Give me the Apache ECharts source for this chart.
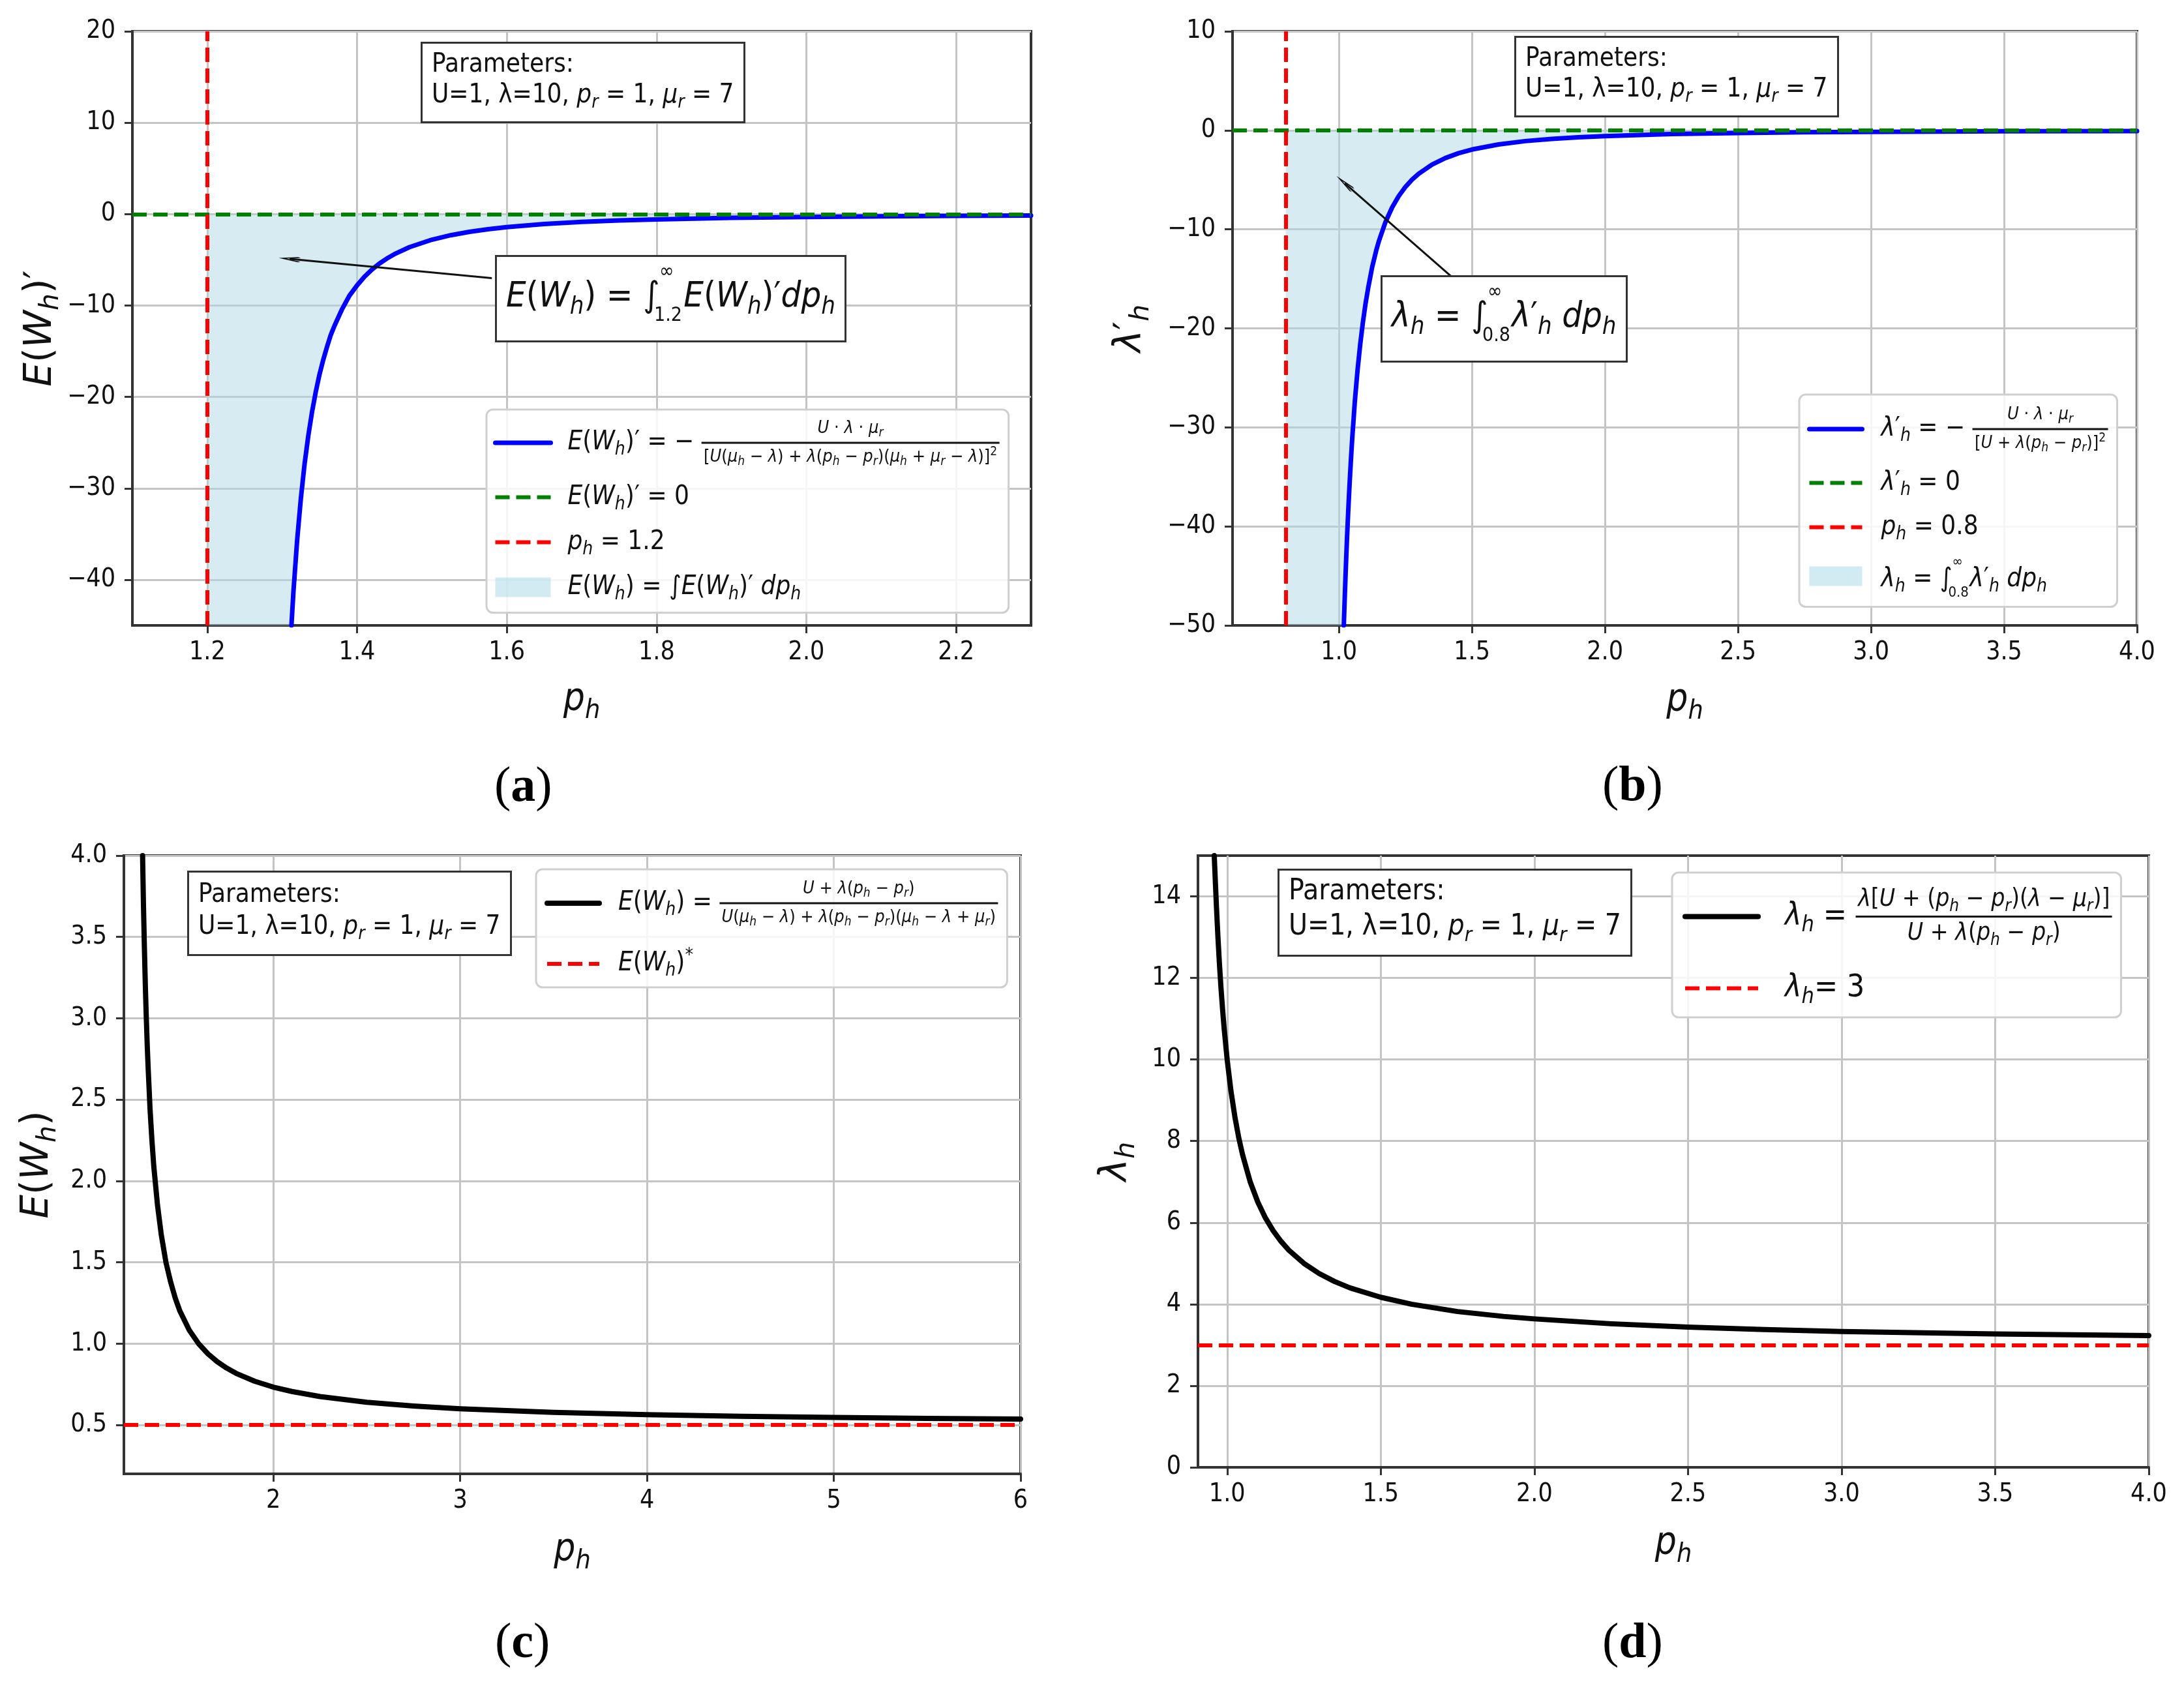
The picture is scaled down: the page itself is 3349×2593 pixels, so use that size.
<!DOCTYPE html>
<html>
<head>
<meta charset="utf-8">
<script src="https://cdn.jsdelivr.net/npm/echarts@6.0.0/dist/echarts.min.js"></script>
<style>
html, body { margin:0; padding:0; background:#ffffff; }
#chart { width:3349px; height:2593px; }
</style>
</head>
<body>
<div id="chart"></div>
<script>
// ================= DATA =================
// (a) E(W_h)' curve
const xA = [1.3124, 1.315, 1.32, 1.325, 1.33, 1.335, 1.34, 1.345, 1.35, 1.355, 1.36, 1.365, 1.37, 1.38, 1.39, 1.40, 1.41, 1.42, 1.43, 1.44, 1.45, 1.47, 1.5, 1.525, 1.55, 1.575, 1.6, 1.65, 1.7, 1.75, 1.8, 1.85, 1.9, 2.0, 2.1, 2.2, 2.3];
const yA = [-45, -41.4, -35.7, -31.1, -27.3, -24.2, -21.6, -19.4, -17.5, -15.9, -14.5, -13.2, -12.2, -10.4, -8.9, -7.8, -6.84, -6.06, -5.40, -4.85, -4.38, -3.62, -2.8, -2.31, -1.94, -1.66, -1.43, -1.09, -0.86, -0.7, -0.58, -0.49, -0.41, -0.31, -0.24, -0.19, -0.16];
// (b) lambda_h' curve
const xB = [1.0183, 1.02, 1.025, 1.03, 1.035, 1.04, 1.045, 1.05, 1.06, 1.07, 1.08, 1.09, 1.1, 1.11, 1.125, 1.14, 1.15, 1.175, 1.2, 1.225, 1.25, 1.275, 1.3, 1.35, 1.4, 1.45, 1.5, 1.6, 1.7, 1.8, 1.9, 2.0, 2.25, 2.5, 2.75, 3.0, 3.5, 4.0];
const yB = [-50, -48.6, -44.8, -41.4, -38.4, -35.7, -33.3, -31.1, -27.3, -24.2, -21.6, -19.4, -17.5, -15.9, -13.8, -12.15, -11.2, -9.26, -7.78, -6.63, -5.71, -4.98, -4.38, -3.46, -2.8, -2.31, -1.94, -1.43, -1.09, -0.86, -0.70, -0.58, -0.38, -0.27, -0.2, -0.16, -0.1, -0.07];
// (c) E(W_h) curve
const xC = [1.3, 1.305, 1.31, 1.315, 1.32, 1.325, 1.33, 1.34, 1.35, 1.36, 1.38, 1.4, 1.425, 1.45, 1.475, 1.5, 1.55, 1.6, 1.65, 1.7, 1.75, 1.8, 1.9, 2.0, 2.1, 2.25, 2.5, 2.75, 3.0, 3.5, 4.0, 4.5, 5.0, 5.5, 6.0];
const yC = [4.0, 3.68, 3.42, 3.19, 3.0, 2.83, 2.69, 2.44, 2.25, 2.09, 1.85, 1.67, 1.5, 1.38, 1.28, 1.2, 1.083, 1.0, 0.9375, 0.889, 0.85, 0.818, 0.769, 0.733, 0.706, 0.675, 0.64, 0.617, 0.6, 0.578, 0.564, 0.554, 0.547, 0.541, 0.537];
// (d) lambda_h curve
const xD = [0.958, 0.962, 0.965, 0.97, 0.975, 0.98, 0.985, 0.99, 1.0, 1.0125, 1.025, 1.0375, 1.05, 1.075, 1.1, 1.125, 1.15, 1.175, 1.2, 1.25, 1.3, 1.35, 1.4, 1.5, 1.6, 1.75, 1.9, 2.0, 2.25, 2.5, 2.75, 3.0, 3.5, 4.0];
const yD = [15, 14.29, 13.77, 13.0, 12.33, 11.75, 11.24, 10.78, 10.0, 9.22, 8.6, 8.09, 7.67, 7.0, 6.5, 6.11, 5.8, 5.545, 5.33, 5.0, 4.75, 4.556, 4.4, 4.17, 4.0, 3.82, 3.7, 3.64, 3.52, 3.44, 3.38, 3.33, 3.27, 3.23];

// reference lines
const vLineA = 1.2, hLineA = 0;
const vLineB = 0.8, hLineB = 0;
const hLineC = 0.5;
const hLineD = 3;

// axis ranges
const xRangeA = [1.1, 2.3],  yRangeA = [-45, 20];
const xRangeB = [0.6, 4.0],  yRangeB = [-50, 10];
const xRangeC = [1.2, 6.0],  yRangeC = [0.2, 4.0];
const xRangeD = [0.905, 4.0], yRangeD = [0, 15];

// tick labels
const xTicksA = [1.2, 1.4, 1.6, 1.8, 2.0, 2.2];
const yTicksA = [-40, -30, -20, -10, 0, 10, 20];
const xTicksB = [1.0, 1.5, 2.0, 2.5, 3.0, 3.5, 4.0];
const yTicksB = [-50, -40, -30, -20, -10, 0, 10];
const xTicksC = [2, 3, 4, 5, 6];
const yTicksC = [0.5, 1.0, 1.5, 2.0, 2.5, 3.0, 3.5, 4.0];
const xTicksD = [1.0, 1.5, 2.0, 2.5, 3.0, 3.5, 4.0];
const yTicksD = [0, 2, 4, 6, 8, 10, 12, 14];

// annotation arrows [from, to] in data coordinates
const arrowA = [[1.58, -7.0], [1.31, -4.9]];
const arrowB = [[1.42, -14.7], [1.022, -5.35]];

// ================= STYLE =================
const F  = "'DejaVu Sans Condensed', 'DejaVu Sans', sans-serif";
const FY = "'DejaVu Sans', sans-serif";
const FS = "'Liberation Serif', 'DejaVu Serif', serif";
const TXT = '#111111';
const AX = '#333333';
const GRID = '#c4c4c4';
const BLUE = '#0000ff', GREEN = '#008000', RED = '#ff0000', BLACK = '#000000';
const FILL = '#add8e6';
const DASH = [22, 10];
const DASHW = 6;

const cv = document.createElement('canvas').getContext('2d');

function st(p, size, lh, opts) {
  opts = opts || {};
  const b = { fontFamily: opts.family || F, color: TXT, fontWeight: 'normal' };
  if (opts.align) b.align = opts.align;
  const ss = Math.round(size * 0.7);
  const r = {};
  r[p + 'I'] = Object.assign({}, b, { fontSize: size, fontStyle: 'italic', lineHeight: lh });
  r[p + 'R'] = Object.assign({}, b, { fontSize: size, lineHeight: lh });
  r[p + 'S'] = Object.assign({}, b, { fontSize: ss, fontStyle: 'italic', lineHeight: lh, padding: [Math.round(size * 0.56), 0, 0, 0] });
  r[p + 'P'] = Object.assign({}, b, { fontSize: ss, lineHeight: lh, padding: [0, 0, Math.round(size * 0.6), 0] });
  return r;
}

function tex(s, p) {
  let out = '', i = 0;
  const isL = c => /[A-Za-zλμ]/.test(c);
  while (i < s.length) {
    const c = s[i];
    if (c === '_' || c === '^') {
      const k = c === '_' ? 'S' : 'P';
      i++;
      let t;
      if (s[i] === '{') { const j = s.indexOf('}', i); t = s.slice(i + 1, j); i = j + 1; }
      else { t = s[i]; i++; }
      out += '{' + p + k + '|' + t + '}';
      continue;
    }
    const L = isL(c);
    let j = i;
    while (j < s.length && s[j] !== '_' && s[j] !== '^' && isL(s[j]) === L) j++;
    out += '{' + p + (L ? 'I' : 'R') + '|' + s.slice(i, j) + '}';
    i = j;
  }
  return out;
}

function measure(str, rich) {
  let w = 0;
  str.replace(/\{(\w+)\|([^}]*)\}/g, (m, k, t) => {
    const s = rich[k] || {};
    if (s.width != null) { w += s.width; return m; }
    cv.font = (s.fontStyle || 'normal') + ' ' + (s.fontWeight || 'normal') + ' ' + (s.fontSize || 12) + 'px ' + (s.fontFamily || F);
    w += cv.measureText(t).width;
    if (s.padding) w += (s.padding[1] || 0) + (s.padding[3] || 0);
    return m;
  });
  return w;
}

function fracText(lhs, num, den, rich, pC, pN, id) {
  const L = tex(lhs, pC), N = tex(num, pN), D = tex(den, pN);
  const wl = measure(L, rich), wn = measure(N, rich), wd = measure(D, rich);
  const wb = Math.ceil(Math.max(wn, wd) + 6);
  rich['sp' + id] = { width: Math.round(wl), fontSize: 4, lineHeight: 4 };
  rich['br' + id] = { width: wb, height: 3, lineHeight: 3, fontSize: 2, backgroundColor: TXT };
  return '{sp' + id + '| }' + N + '\n' + L + '{br' + id + '| }\n{sp' + id + '| }' + D;
}

function intText(pre, post, up, lo, rich, pM, kU, kL, id, loShift) {
  const P = tex(pre, pM), Q = tex(post, pM);
  const wp = measure(P, rich);
  const U = '{' + kU + '|' + up + '}', Lo = '{' + kL + '|' + lo + '}';
  const wlim = Math.max(measure(U, rich), measure(Lo, rich));
  rich['sp' + id] = { width: Math.round(wp), fontSize: 4, lineHeight: 4 };
  rich['sq' + id] = { width: Math.round(wp - loShift), fontSize: 4, lineHeight: 4 };
  rich['gp' + id] = { width: Math.round(wlim - loShift + 2), fontSize: 4, lineHeight: 4 };
  return '{sp' + id + '| }' + U + '\n' + P + '{gp' + id + '| }' + Q + '\n{sq' + id + '| }' + Lo;
}

const pts = (xs, ys) => xs.map((x, i) => [x, ys[i]]);
const fmtMinus = v => (v < 0 ? '\u2212' + Math.abs(v) : String(v));
const fmt1 = v => Number(v).toFixed(1);
const fmt0 = v => String(Math.round(v));

// ================= AXES =================
const richX = st('X', 58, 60);
const richY = st('Y', 58, 60, { family: FY });

function xAxis(gi, range, ticks, fmt, gap) {
  return {
    type: 'value', gridIndex: gi, min: range[0], max: range[1], position: 'bottom',
    axisLine: { show: true, onZero: false, lineStyle: { color: AX, width: 4 } },
    axisTick: { show: true, inside: false, length: 12, customValues: ticks, lineStyle: { color: AX, width: 3 } },
    axisLabel: { show: true, customValues: ticks, formatter: fmt, margin: 22, color: TXT, fontSize: 39, fontFamily: F },
    splitLine: { show: true, lineStyle: { color: GRID, width: 3 } },
    name: tex('p_h', 'X'), nameLocation: 'middle', nameGap: gap,
    nameTextStyle: { fontFamily: F, fontSize: 58, color: TXT, rich: richX }
  };
}
function yAxis(gi, range, ticks, fmt, nm, gap) {
  return {
    type: 'value', gridIndex: gi, min: range[0], max: range[1], position: 'left',
    axisLine: { show: true, onZero: false, lineStyle: { color: AX, width: 4 } },
    axisTick: { show: true, inside: false, length: 12, customValues: ticks, lineStyle: { color: AX, width: 3 } },
    axisLabel: { show: true, customValues: ticks, formatter: fmt, margin: 26, color: TXT, fontSize: 39, fontFamily: F },
    splitLine: { show: true, lineStyle: { color: GRID, width: 3 } },
    name: tex(nm, 'Y'), nameLocation: 'middle', nameGap: gap, nameRotate: 90,
    nameTextStyle: { fontFamily: FY, fontSize: 58, color: TXT, rich: richY }
  };
}

function grid(left, top, width, height) {
  return { left, top, width, height, show: true, borderColor: AX, borderWidth: 4,
           backgroundColor: 'rgba(0,0,0,0)', containLabel: false, outerBoundsMode: 'none' };
}

// ================= TITLES (parameter boxes, annotations, captions) =================
function paramsTitle(left, top, size, lh, pad) {
  const p = 'A';
  const rich = st(p, size, lh);
  const text = '{AR|Parameters:}\n{AR|U=1, λ=10, }' + tex('p_r', p) + '{AR| = 1, }' + tex('μ_r', p) + '{AR| = 7}';
  return { text, left, top, padding: pad, borderColor: '#333333', borderWidth: 3, backgroundColor: '#ffffff',
           textStyle: { fontFamily: F, fontSize: size, fontWeight: 'normal', color: TXT, lineHeight: lh, rich } };
}

function annTitle(left, top, pre, post, lo, id) {
  const rich = Object.assign({}, st('M', 54, 50), {
    Mu: { fontFamily: F, fontSize: 30, fontWeight: 'normal', color: TXT, lineHeight: 28 },
    Ml: { fontFamily: F, fontSize: 30, fontWeight: 'normal', color: TXT, lineHeight: 6 }
  });
  const text = intText(pre, post, '∞', lo, rich, 'M', 'Mu', 'Ml', id, 8);
  return { text, left, top, padding: [10, 16, 25, 16], borderColor: '#333333', borderWidth: 3, backgroundColor: '#ffffff',
           textStyle: { fontFamily: F, fontSize: 54, fontWeight: 'normal', color: TXT, rich } };
}

function caption(cx, cy, letter) {
  const rich = {
    cb: { fontFamily: FS, fontSize: 76, fontWeight: 'bold', color: '#000', lineHeight: 84 },
    cn: { fontFamily: FS, fontSize: 76, fontWeight: 'normal', color: '#000', lineHeight: 84 }
  };
  const text = '{cn|(}{cb|' + letter + '}{cn|)}';
  const w = measure(text, rich);
  return { text, left: Math.round(cx - w / 2), top: Math.round(cy - 42), padding: 0,
           textStyle: { fontFamily: FS, fontSize: 76, fontWeight: 'normal', rich } };
}

// ================= LEGENDS =================
function legend(cfg) {
  return {
    orient: 'vertical', left: cfg.left, top: cfg.top, padding: cfg.padding, itemGap: cfg.gap,
    itemWidth: cfg.iw, itemHeight: 30, selectedMode: false,
    backgroundColor: 'rgba(255,255,255,0.85)', borderColor: '#cfcfcf', borderWidth: 3, borderRadius: 10,
    itemStyle: { opacity: 0 },
    textStyle: { fontFamily: F, fontSize: cfg.lf, fontWeight: 'normal', color: TXT, padding: [0, 0, 0, cfg.tg], rich: cfg.rich },
    formatter: n => cfg.labels[n],
    data: cfg.data
  };
}

const richLA = Object.assign({}, st('L', 40, 46), st('C', 40, 16), st('N', 27, 28, { align: 'center' }));
const labA = {
  aCurve: fracText('E(W_h)′ = − ', 'U · λ · μ_r', '[U(μ_h − λ) + λ(p_h − p_r)(μ_h + μ_r − λ)]^2', richLA, 'C', 'N', 'a1'),
  aZero: tex('E(W_h)′ = 0', 'L'),
  aV: tex('p_h = 1.2', 'L'),
  aFill: tex('E(W_h) = ∫E(W_h)′ dp_h', 'L')
};
const richLB = Object.assign({}, st('L', 40, 46), st('C', 40, 16), st('N', 27, 28, { align: 'center' }), st('K', 40, 36), {
  Lu: { fontFamily: F, fontSize: 22, fontWeight: 'normal', color: TXT, lineHeight: 16 },
  Ll: { fontFamily: F, fontSize: 22, fontWeight: 'normal', color: TXT, lineHeight: 6 }
});
const labB = {
  bCurve: fracText('λ′_h = − ', 'U · λ · μ_r', '[U + λ(p_h − p_r)]^2', richLB, 'C', 'N', 'b1'),
  bZero: tex('λ′_h = 0', 'L'),
  bV: tex('p_h = 0.8', 'L'),
  bFill: intText('λ_h = ∫', 'λ′_h dp_h', '∞', '0.8', richLB, 'K', 'Lu', 'Ll', 'b4', 6)
};
const richLC = Object.assign({}, st('L', 40, 46), st('C', 40, 16), st('N', 27, 28, { align: 'center' }));
const labC = {
  cCurve: fracText('E(W_h) = ', 'U + λ(p_h − p_r)', 'U(μ_h − λ) + λ(p_h − p_r)(μ_h − λ + μ_r)', richLC, 'C', 'N', 'c1'),
  cRef: tex('E(W_h)^*', 'L')
};
const richLD = Object.assign({}, st('L', 48, 52), st('C', 48, 16), st('N', 37, 36, { align: 'center' }));
const labD = {
  dCurve: fracText('λ_h = ', 'λ[U + (p_h − p_r)(λ − μ_r)]', 'U + λ(p_h − p_r)', richLD, 'C', 'N', 'd1'),
  dRef: tex('λ_h= 3', 'L')
};

const fillIcon = { opacity: 1, color: 'rgba(173,216,230,0.55)' };
const li = (name, w) => ({ name, lineStyle: { width: w } });

// ================= SERIES =================
const ARROW = 'path://M10,0L20,15L17.4,17L10,6L2.6,17L0,15Z';
function arrowMark(a) {
  return { silent: true, symbol: ['none', ARROW], symbolSize: [8, 34], label: { show: false },
           emphasis: { disabled: true }, itemStyle: { color: '#111' },
           lineStyle: { color: '#111', width: 3, type: 'solid' },
           data: [[{ coord: a[0] }, { coord: a[1] }]] };
}
function refLine(name, gi, color, mark) {
  return { name, type: 'line', xAxisIndex: gi, yAxisIndex: gi, data: [], symbol: 'none', z: 4,
           lineStyle: { color, width: DASHW, type: DASH }, itemStyle: { color },
           markLine: { silent: true, symbol: ['none', 'none'], label: { show: false }, emphasis: { disabled: true },
                       lineStyle: { color, width: DASHW, type: DASH }, data: [mark] } };
}
function curve(name, gi, data, color, width, arrow) {
  const s = { name, type: 'line', xAxisIndex: gi, yAxisIndex: gi, data, symbol: 'none', showSymbol: false,
              smooth: false, z: 3, lineStyle: { color, width, join: 'round', cap: 'round' }, itemStyle: { color } };
  if (arrow) s.markLine = arrowMark(arrow);
  return s;
}
function fillSeries(name, gi, data) {
  return { name, type: 'line', xAxisIndex: gi, yAxisIndex: gi, data, symbol: 'none', showSymbol: false,
           smooth: false, z: 1, silent: true,
           lineStyle: { width: 0, opacity: 0 }, itemStyle: { color: 'rgba(173,216,230,0.55)' },
           areaStyle: { color: FILL, opacity: 0.5 } };
}

const option = {
  animation: false,
  backgroundColor: '#ffffff',
  textStyle: { fontFamily: F },
  grid: [
    grid(203, 48, 1378, 911),
    grid(1890, 48, 1387, 911),
    grid(190, 1312, 1375, 948),
    grid(1837, 1312, 1458, 938)
  ],
  xAxis: [
    xAxis(0, xRangeA, xTicksA, fmt1, 85),
    xAxis(1, xRangeB, xTicksB, fmt1, 86),
    xAxis(2, xRangeC, xTicksC, fmt0, 88),
    xAxis(3, xRangeD, xTicksD, fmt1, 88)
  ],
  yAxis: [
    yAxis(0, yRangeA, yTicksA, fmtMinus, 'E(W_h)′', 101),
    yAxis(1, yRangeB, yTicksB, fmtMinus, 'λ′_h', 126),
    yAxis(2, yRangeC, yTicksC, fmt1, 'E(W_h)', 102),
    yAxis(3, yRangeD, yTicksD, fmt0, 'λ_h', 95)
  ],
  title: [
    paramsTitle(646, 65, 40, 47, [11, 16, 16, 16]),
    paramsTitle(2323, 56, 40, 47, [11, 16, 16, 16]),
    paramsTitle(288, 1336, 40, 49, [12, 16, 18, 16]),
    paramsTitle(1960, 1333, 44, 54, [8, 16, 16, 16]),
    annTitle(760, 393, 'E(W_h) = ∫', 'E(W_h)′dp_h', '1.2', 'A'),
    annTitle(2118, 424, 'λ_h = ∫', 'λ′_h dp_h', '0.8', 'B'),
    caption(802, 1208, 'a'),
    caption(2503, 1207, 'b'),
    caption(801, 2521, 'c'),
    caption(2503, 2521, 'd')
  ],
  legend: [
    legend({ left: 746, top: 628, padding: [12, 14, 14, 10], gap: 19, iw: 85, lf: 40, tg: 21, rich: richLA, labels: labA,
             data: [li('aCurve', 7), li('aZero', DASHW), li('aV', DASHW), { name: 'aFill', icon: 'rect', itemStyle: fillIcon }] }),
    legend({ left: 2759, top: 605, padding: [14, 14, 10, 12], gap: 18, iw: 81, lf: 40, tg: 24, rich: richLB, labels: labB,
             data: [li('bCurve', 7), li('bZero', DASHW), li('bV', DASHW), { name: 'bFill', icon: 'rect', itemStyle: fillIcon }] }),
    legend({ left: 822, top: 1333, padding: [13, 14, 10, 13], gap: 28, iw: 80, lf: 40, tg: 24, rich: richLC, labels: labC,
             data: [li('cCurve', 8), li('cRef', DASHW)] }),
    legend({ left: 2564, top: 1338, padding: [18, 14, 14, 16], gap: 30, iw: 112, lf: 48, tg: 36, rich: richLD, labels: labD,
             data: [li('dCurve', 8), li('dRef', DASHW)] })
  ],
  series: [
    fillSeries('aFill', 0, [[vLineA, yRangeA[0]]].concat(pts(xA, yA))),
    curve('aCurve', 0, pts(xA, yA), BLUE, 7, arrowA),
    refLine('aZero', 0, GREEN, { yAxis: hLineA }),
    refLine('aV', 0, RED, { xAxis: vLineA }),

    fillSeries('bFill', 1, [[vLineB, yRangeB[0]]].concat(pts(xB, yB))),
    curve('bCurve', 1, pts(xB, yB), BLUE, 7, arrowB),
    refLine('bZero', 1, GREEN, { yAxis: hLineB }),
    refLine('bV', 1, RED, { xAxis: vLineB }),

    curve('cCurve', 2, pts(xC, yC), BLACK, 8, null),
    refLine('cRef', 2, RED, { yAxis: hLineC }),

    curve('dCurve', 3, pts(xD, yD), BLACK, 8, null),
    refLine('dRef', 3, RED, { yAxis: hLineD })
  ]
};

const chart = echarts.init(document.getElementById('chart'), null, { renderer: 'canvas', width: 3349, height: 2593 });
chart.setOption(option);
</script>
</body>
</html>
